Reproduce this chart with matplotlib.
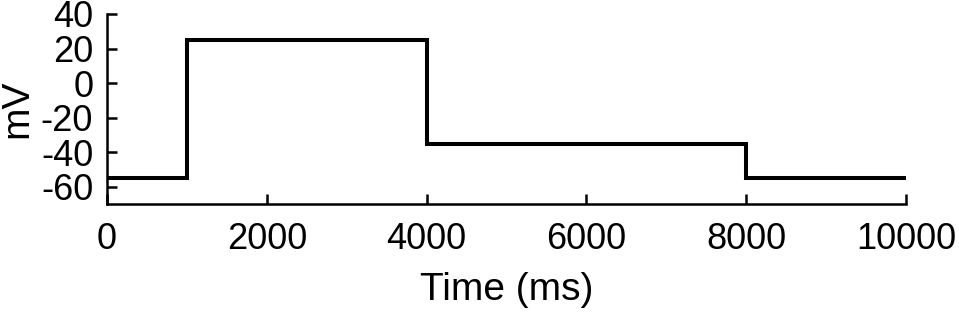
import matplotlib
matplotlib.use("Agg")
import matplotlib.pyplot as plt
from matplotlib.ticker import FuncFormatter

time_ms = [0, 1000, 1000, 4000, 4000, 8000, 8000, 10000]
voltage_mv = [-55, -55, 25, 25, -35, -35, -55, -55]
xticks = [0, 2000, 4000, 6000, 8000, 10000]
yticks = [-60, -40, -20, 0, 20, 40]

plt.rcParams['font.family'] = ['Liberation Sans', 'DejaVu Sans']
fig = plt.figure(figsize=(9.59, 3.15), dpi=100)
ax = fig.add_axes([0.1116, 0.3524, 0.8331, 0.6032])
ax.plot(time_ms, voltage_mv, color='black', linewidth=2.9, solid_joinstyle='miter')
ax.set_xlim(0, 10000)
ax.set_ylim(-70, 40)
ax.set_xticks(xticks)
ax.set_yticks(yticks)
fmt = FuncFormatter(lambda v, p: f"{int(v)}".replace('\u2212', '-'))
ax.xaxis.set_major_formatter(fmt)
ax.yaxis.set_major_formatter(fmt)
ax.spines['top'].set_visible(False)
ax.spines['right'].set_visible(False)
for s in ['left', 'bottom']:
    ax.spines[s].set_linewidth(1.8)
ax.tick_params(axis='both', direction='in', length=7, width=1.8, labelsize=26, colors='black')
ax.tick_params(axis='x', pad=13)
ax.tick_params(axis='y', pad=10)
ax.set_xlabel('Time (ms)', fontsize=28, labelpad=11)
ax.set_ylabel('mV', fontsize=28, labelpad=4)
fig.savefig('out.png', dpi=100)
